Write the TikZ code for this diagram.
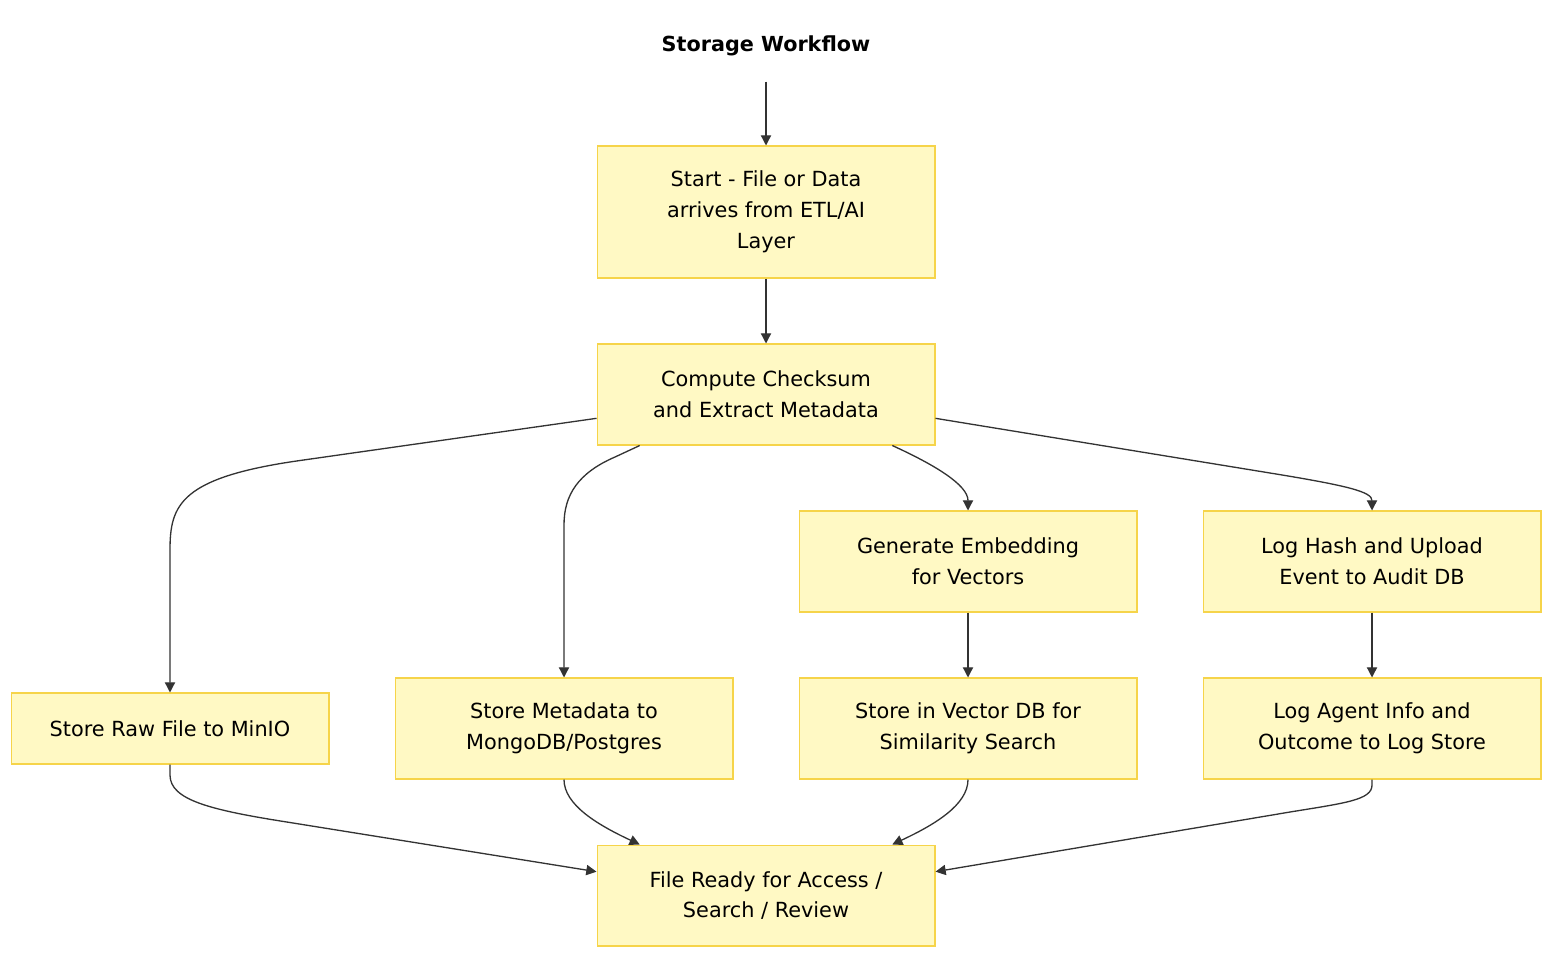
\documentclass[tikz,border=0pt]{standalone}
\usepackage{fontspec}
\setmainfont{DejaVu Sans}
\usepackage{tikz}
\usetikzlibrary{arrows.meta}
\definecolor{boxfill}{HTML}{FFF9C4}
\definecolor{boxline}{HTML}{F6D44A}
\definecolor{edgecol}{HTML}{333333}

\begin{document}
\begin{tikzpicture}
%   one unit = one pixel of the reference
[x=0.02cm,y=-0.02cm,->,>={Triangle[length=5.8pt,width=5.8pt]},line width=0.75pt,color=edgecol,
  box node/.style={draw=boxline,fill=boxfill,line width=0.6pt,text=black,align=center,inner sep=0pt,
    minimum width=6.76cm,minimum height=2.02cm,font=\fontsize{11.85}{17.6}\selectfont}]
  \useasboundingbox (0,0) rectangle (1568,968);

  \node[text=black,inner sep=0pt,minimum height=1.4cm,font=\bfseries\fontsize{11.8}{14}\selectfont] (t) at (766,46) {Storage Workflow};

  \node[box node,minimum height=2.64cm] (n1) at (766,212) {Start - File or Data\\arrives from ETL/AI\\Layer};
  \node[box node] (n2) at (766,394.5) {Compute Checksum\\and Extract Metadata};

  \node[box node,minimum width=6.36cm,minimum height=1.42cm] (n2n1) at (170,728.5) {Store Raw File to MinIO};
  \node[box node] (n2n2) at (564,728.5) {Store Metadata to\\MongoDB/Postgres};
  \node[box node] (n2n3) at (968,561.5) {Generate Embedding\\for Vectors};
  \node[box node] (n2n4) at (1372,561.5) {Log Hash and Upload\\Event to Audit DB};

  \node[box node] (n2n3n1) at (968,728.5) {Store in Vector DB for\\Similarity Search};
  \node[box node] (n2n4n1) at (1372,728.5) {Log Agent Info and\\Outcome to Log Store};

  \node[box node] (n3) at (766,895.5) {File Ready for Access /\\Search / Review};

   \foreach \from/\to in {t/n1,n1/n2,n2n3/n2n3n1,n2n4/n2n4n1}
     \draw (\from) -- (\to);

  % fan out
  \draw (n2.188) -- (300,460.5) .. controls (180,477.5) and (170,505) .. (170,550) -- (n2n1);
  \draw (n2.202) -- (615,457) .. controls (578,473) and (564,495) .. (564,525) -- (n2n2);
  \draw (n2.338) .. controls (935,465) and (968,485) .. (n2n3.north);
  \draw (n2.352) -- (1270,473) .. controls (1350,486) and (1372,492) .. (n2n4.north);

  % fan in
  \draw (n2n1.south) -- (170,775) .. controls (170,800) and (210,810) .. (290,822.5) -- (n3.172);
  \draw (n2n2.south) .. controls (564,805) and (598,825) .. (n3.158);
  \draw (n2n3n1.south) .. controls (968,805) and (934,825) .. (n3.22);
  \draw (n2n4n1.south) -- (1372,785) .. controls (1372,800) and (1345,803) .. (1290,812) -- (n3.8);

\end{tikzpicture}
\end{document}
